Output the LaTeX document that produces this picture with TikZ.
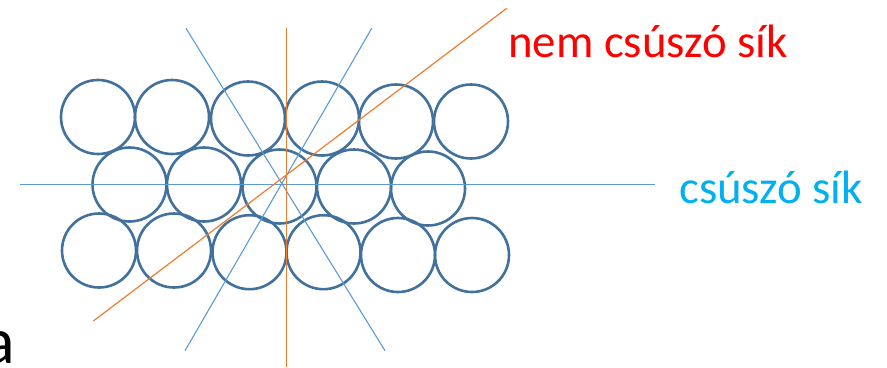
\documentclass[tikz,border=0pt]{standalone}
\usepackage{fontspec}
\setmainfont{Carlito}
\definecolor{ringblue}{HTML}{41719C}
\definecolor{lineblue}{HTML}{5B9BD5}
\definecolor{lineorange}{HTML}{ED7D31}
\definecolor{txtred}{HTML}{FF0000}
\definecolor{txtcyan}{HTML}{00B0F0}
\begin{document}
\begin{tikzpicture}[x=1bp,y=-1bp,
  ring/.style={circle,draw=ringblue,line width=2.6bp,minimum size=74bp,inner sep=0pt},
  bluel/.style={draw=lineblue,line width=1.1bp},
  orangel/.style={draw=lineorange,line width=1.2bp}]
\useasboundingbox (0,0) rectangle (887,367);
% top row
\node[ring] (t1) at (98,117) {};
\node[ring] (t2) at (172,117) {};
\node[ring] (t3) at (248,118.5) {};
\node[ring] (t4) at (322,118.5) {};
\node[ring] (t5) at (396,121.5) {};
\node[ring] (t6) at (471,121.5) {};
% middle row
\node[ring] (m1) at (129.5,184.5) {};
\node[ring] (m2) at (204,184.5) {};
\node[ring] (m3) at (279.5,186.5) {};
\node[ring] (m4) at (354,186.5) {};
\node[ring] (m5) at (428,188.5) {};
% bottom row
\node[ring] (b1) at (99,250.5) {};
\node[ring] (b2) at (174,250.5) {};
\node[ring] (b3) at (249.5,252.2) {};
\node[ring] (b4) at (323.5,252.2) {};
\node[ring] (b5) at (398,255) {};
\node[ring] (b6) at (472,255) {};
% line end points
\coordinate (hA) at (20,184.3);
\coordinate (hB) at (655,184.3);
\coordinate (d1A) at (186,28.3);
\coordinate (d1B) at (385,350.7);
\coordinate (d2A) at (371.7,28.3);
\coordinate (d2B) at (185,350.7);
\coordinate (vA) at (286.7,28.3);
\coordinate (vB) at (286.7,367);
\coordinate (oA) at (93.3,321);
\coordinate (oB) at (506.7,8.3);
\draw[bluel] (hA) -- (hB);
\draw[bluel] (d1A) -- (d1B);
\draw[bluel] (d2A) -- (d2B);
\draw[orangel,line width=1.5bp] (vA) -- (vB);
\draw[orangel] (oA) -- (oB);
% labels
\node[anchor=base west,inner sep=0pt,text=txtred,font=\fontsize{47}{50}\selectfont] (nem) at (508,57.3) {nem csúszó sík};
\node[anchor=base west,inner sep=0pt,text=txtcyan,font=\fontsize{47}{50}\selectfont] (csu) at (679,203.3) {csúszó sík};
\node[anchor=base west,inner sep=0pt,text=black,font=\fontsize{66}{70}\selectfont] (a) at (-17,363.3) {a};
\end{tikzpicture}
\end{document}
